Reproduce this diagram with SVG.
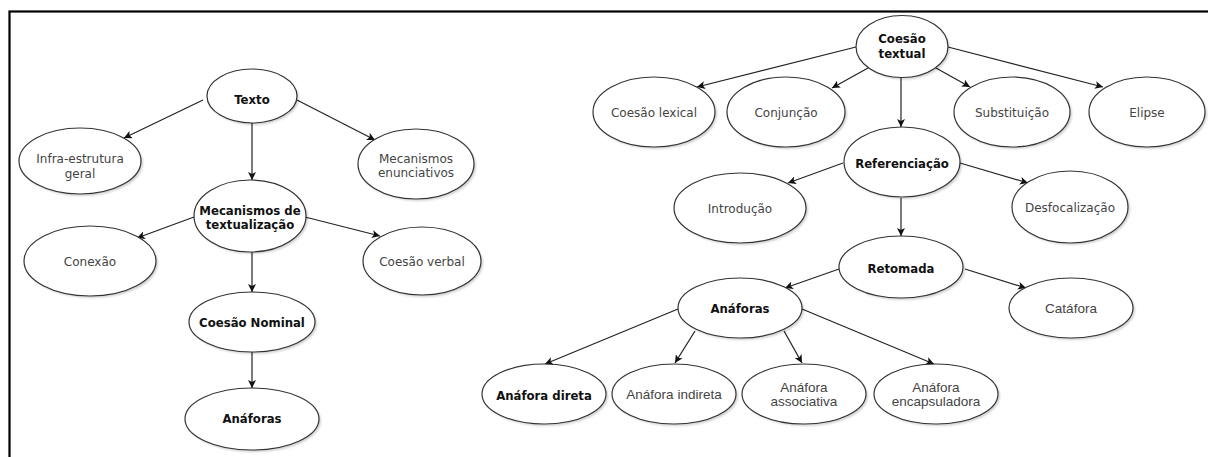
<svg xmlns="http://www.w3.org/2000/svg" width="1208" height="457" viewBox="0 0 1208 457">
<style>
.node ellipse.b{fill:#fff;stroke:#333;stroke-width:1.2}
.node ellipse.s{fill:#000;opacity:0.18}
.t{font-family:"DejaVu Sans",Verdana,sans-serif;font-size:12px;fill:#444;text-anchor:middle}
.tb{font-family:"DejaVu Sans Condensed","DejaVu Sans",Verdana,sans-serif;font-stretch:condensed;font-size:13px;font-weight:bold;fill:#111;text-anchor:middle}
.tn{font-family:"Liberation Sans",Arial,sans-serif;font-size:13.5px;fill:#444;text-anchor:middle}
#connectors line{stroke:#222;stroke-width:1.2;marker-end:url(#arr)}
</style>
<defs>
<marker id="arr" viewBox="0 0 10 10" refX="10" refY="5" markerWidth="8" markerHeight="8" markerUnits="userSpaceOnUse" orient="auto">
<path d="M0,0 L10,5 L0,10 L2.5,5 z" fill="#111"/>
</marker>
<filter id="blur" x="-10%" y="-10%" width="120%" height="120%"><feGaussianBlur stdDeviation="1"/></filter>
</defs>
<rect width="1208" height="457" fill="#fff"/>
<rect x="9.5" y="11.5" width="1300" height="600" fill="none" stroke="#000" stroke-width="2.2"/>

<g id="connectors">
<line x1="203" y1="100" x2="124" y2="138"/>
<line x1="297" y1="100" x2="375" y2="140"/>
<line x1="252" y1="123" x2="252" y2="180"/>
<line x1="194" y1="217" x2="137" y2="238"/>
<line x1="305" y1="217" x2="380" y2="236"/>
<line x1="252" y1="252" x2="252" y2="292"/>
<line x1="252" y1="352" x2="252" y2="388"/>
<line x1="856" y1="47" x2="697" y2="87"/>
<line x1="868" y1="68" x2="832" y2="88"/>
<line x1="901" y1="77" x2="901" y2="127"/>
<line x1="936" y1="68" x2="970" y2="87"/>
<line x1="948" y1="47" x2="1103" y2="87"/>
<line x1="843" y1="163" x2="788" y2="183"/>
<line x1="960" y1="163" x2="1028" y2="183"/>
<line x1="901" y1="198" x2="901" y2="236"/>
<line x1="839" y1="269" x2="785" y2="288"/>
<line x1="965" y1="269" x2="1026" y2="288"/>
<line x1="678" y1="309" x2="545" y2="364"/>
<line x1="695" y1="331" x2="675" y2="363"/>
<line x1="784" y1="331" x2="802" y2="363"/>
<line x1="802" y1="309" x2="934" y2="364"/>
</g>

<g id="texto" class="node"><ellipse class="s" cx="254" cy="98" rx="45" ry="27" filter="url(#blur)"/><ellipse class="b" cx="252" cy="96" rx="45" ry="27"/><text class="tb" x="252" y="104">Texto</text></g>
<g id="infra" class="node"><ellipse class="s" cx="82" cy="163" rx="61" ry="33" filter="url(#blur)"/><ellipse class="b" cx="80" cy="161" rx="61" ry="33"/><text class="t" x="80" y="163">Infra-estrutura</text><text class="t" x="80" y="178">geral</text></g>
<g id="mec-enunciativos" class="node"><ellipse class="s" cx="418" cy="166" rx="58" ry="35" filter="url(#blur)"/><ellipse class="b" cx="416" cy="164" rx="58" ry="35"/><text class="t" x="416" y="163">Mecanismos</text><text class="t" x="416" y="177">enunciativos</text></g>
<g id="mec-textualizacao" class="node"><ellipse class="s" cx="252" cy="218" rx="56" ry="36" filter="url(#blur)"/><ellipse class="b" cx="250" cy="216" rx="56" ry="36"/><text class="tb" x="250" y="215">Mecanismos de</text><text class="tb" x="250" y="229">textualização</text></g>
<g id="conexao" class="node"><ellipse class="s" cx="92" cy="263" rx="66" ry="35" filter="url(#blur)"/><ellipse class="b" cx="90" cy="261" rx="66" ry="35"/><text class="t" x="90" y="266">Conexão</text></g>
<g id="coesao-verbal" class="node"><ellipse class="s" cx="424" cy="263" rx="59" ry="34" filter="url(#blur)"/><ellipse class="b" cx="422" cy="261" rx="59" ry="34"/><text class="t" x="422" y="266">Coesão verbal</text></g>
<g id="coesao-nominal" class="node"><ellipse class="s" cx="254" cy="324" rx="63" ry="30" filter="url(#blur)"/><ellipse class="b" cx="252" cy="322" rx="63" ry="30"/><text class="tb" x="252" y="327">Coesão Nominal</text></g>
<g id="anaforas-l" class="node"><ellipse class="s" cx="254" cy="421" rx="67" ry="31" filter="url(#blur)"/><ellipse class="b" cx="252" cy="419" rx="67" ry="31"/><text class="tb" x="252" y="423">Anáforas</text></g>

<g id="coesao-textual" class="node"><ellipse class="s" cx="904" cy="48.5" rx="46" ry="31" filter="url(#blur)"/><ellipse class="b" cx="902" cy="46.5" rx="46" ry="31"/><text class="tb" x="902" y="43">Coesão</text><text class="tb" x="902" y="58">textual</text></g>
<g id="coesao-lexical" class="node"><ellipse class="s" cx="656" cy="114" rx="61" ry="35" filter="url(#blur)"/><ellipse class="b" cx="654" cy="112" rx="61" ry="35"/><text class="t" x="654" y="117">Coesão lexical</text></g>
<g id="conjuncao" class="node"><ellipse class="s" cx="788" cy="114" rx="59" ry="35" filter="url(#blur)"/><ellipse class="b" cx="786" cy="112" rx="59" ry="35"/><text class="t" x="786" y="117">Conjunção</text></g>
<g id="substituicao" class="node"><ellipse class="s" cx="1014" cy="114" rx="58" ry="35" filter="url(#blur)"/><ellipse class="b" cx="1012" cy="112" rx="58" ry="35"/><text class="t" x="1012" y="117">Substituição</text></g>
<g id="elipse" class="node"><ellipse class="s" cx="1149" cy="114" rx="58" ry="35" filter="url(#blur)"/><ellipse class="b" cx="1147" cy="112" rx="58" ry="35"/><text class="t" x="1147" y="117">Elipse</text></g>
<g id="referenciacao" class="node"><ellipse class="s" cx="904" cy="164" rx="58" ry="35" filter="url(#blur)"/><ellipse class="b" cx="902" cy="162" rx="58" ry="35"/><text class="tb" x="902" y="168">Referenciação</text></g>
<g id="introducao" class="node"><ellipse class="s" cx="742" cy="210" rx="66" ry="35" filter="url(#blur)"/><ellipse class="b" cx="740" cy="208" rx="66" ry="35"/><text class="t" x="740" y="213">Introdução</text></g>
<g id="desfocalizacao" class="node"><ellipse class="s" cx="1072" cy="209" rx="58" ry="36" filter="url(#blur)"/><ellipse class="b" cx="1070" cy="207" rx="58" ry="36"/><text class="t" x="1070" y="212">Desfocalização</text></g>
<g id="retomada" class="node"><ellipse class="s" cx="903" cy="269" rx="62" ry="31" filter="url(#blur)"/><ellipse class="b" cx="901" cy="267" rx="62" ry="31"/><text class="tb" x="901" y="273">Retomada</text></g>
<g id="anaforas-r" class="node"><ellipse class="s" cx="742" cy="310" rx="62" ry="30" filter="url(#blur)"/><ellipse class="b" cx="740" cy="308" rx="62" ry="30"/><text class="tb" x="740" y="313">Anáforas</text></g>
<g id="catafora" class="node"><ellipse class="s" cx="1073" cy="310" rx="62" ry="30" filter="url(#blur)"/><ellipse class="b" cx="1071" cy="308" rx="62" ry="30"/><text class="tn" x="1071" y="313">Catáfora</text></g>
<g id="anafora-direta" class="node"><ellipse class="s" cx="546" cy="396" rx="62" ry="30" filter="url(#blur)"/><ellipse class="b" cx="544" cy="394" rx="62" ry="30"/><text class="tb" x="544" y="400">Anáfora direta</text></g>
<g id="anafora-indireta" class="node"><ellipse class="s" cx="676" cy="396" rx="62" ry="30" filter="url(#blur)"/><ellipse class="b" cx="674" cy="394" rx="62" ry="30"/><text class="tn" x="674" y="399">Anáfora indireta</text></g>
<g id="anafora-associativa" class="node"><ellipse class="s" cx="806" cy="396" rx="62" ry="30" filter="url(#blur)"/><ellipse class="b" cx="804" cy="394" rx="62" ry="30"/><text class="tn" x="804" y="392">Anáfora</text><text class="tn" x="804" y="406">associativa</text></g>
<g id="anafora-encapsuladora" class="node"><ellipse class="s" cx="938" cy="396" rx="62" ry="30" filter="url(#blur)"/><ellipse class="b" cx="936" cy="394" rx="62" ry="30"/><text class="tn" x="936" y="392">Anáfora</text><text class="tn" x="936" y="406">encapsuladora</text></g>
</svg>
